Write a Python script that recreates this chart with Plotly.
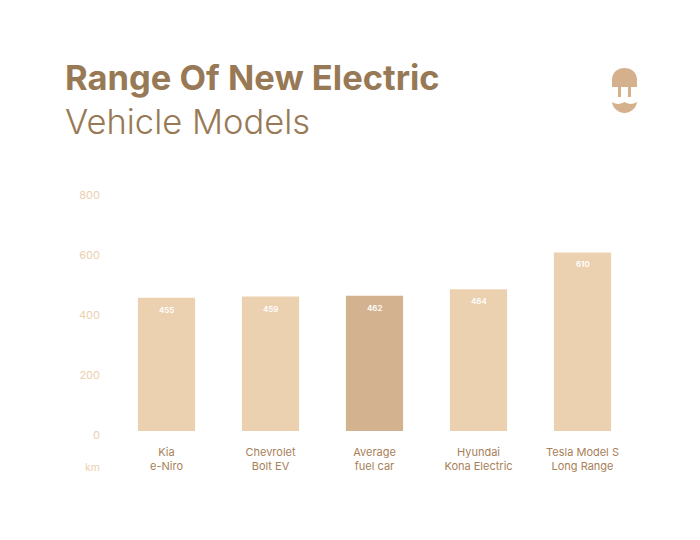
import plotly.graph_objects as go

categories = ["Kia<br>e-Niro", "Chevrolet<br>Bolt EV", "Average<br>fuel car", "Hyundai<br>Kona Electric", "Tesla Model S<br>Long Range"]
values = [455, 459, 462, 484, 610]
bar_colors = ["#ecd1b0", "#ecd1b0", "#d3b38f", "#ecd1b0", "#ecd1b0"]
y_ticks = [0, 200, 400, 600, 800]
W, H = 700, 540
FONT = "Inter"
BROWN = "#987955"
ICON = "#d4b08c"
TICK = "#eccfae"


def py(p):
    return 1 - p / H


def px(p):
    return p / W


def P(x, y):
    return f"{x/W:.5f} {1-y/H:.5f}"


fig = go.Figure()
fig.add_trace(go.Bar(
    x=categories, y=values, marker=dict(color=bar_colors, line_width=0),
    cliponaxis=False, hoverinfo="skip", showlegend=False,
))
fig.add_trace(go.Scatter(x=categories[:1], y=[0], yaxis="y2", mode="markers",
                         marker=dict(opacity=0), hoverinfo="skip", showlegend=False))

icon_shapes = [
    dict(path=f"M {P(612,87)} L {P(612,80)} C {P(612,72)} {P(618,68)} {P(624.5,68)} C {P(631,68)} {P(637,72)} {P(637,80)} L {P(637,87)} Z"),
    dict(path=f"M {P(618,87)} L {P(621,87)} L {P(621,97)} L {P(618,97)} Z"),
    dict(path=f"M {P(628,87)} L {P(631,87)} L {P(631,97)} L {P(628,97)} Z"),
    dict(path=f"M {P(612,102)} C {P(617,105)} {P(621,104)} {P(624.5,102)} C {P(628,104)} {P(632,105)} {P(637,102)} C {P(636,109)} {P(630,113)} {P(624.5,113)} C {P(619,113)} {P(613,109)} {P(612,102)} Z"),
]
for s in icon_shapes:
    s.update(type="path", xref="paper", yref="paper", fillcolor=ICON, line_width=0)

value_labels = [
    dict(x=c, y=v, xref="x", yref="y", text=str(v), showarrow=False, yshift=-12,
         xanchor="center", yanchor="middle",
         font=dict(size=8, color="#ffffff", family=FONT, weight=600))
    for c, v in zip(categories, values)
]

fig.update_layout(
    width=W, height=H, margin=dict(l=0, r=0, t=0, b=0, autoexpand=False),
    paper_bgcolor="#ffffff", plot_bgcolor="rgba(0,0,0,0)", bargap=0.45, shapes=icon_shapes,
    xaxis=dict(domain=[px(114.5), px(634.5)], type="category", showgrid=False, zeroline=False,
               showline=False, ticks="", ticklabelstandoff=13,
               tickfont=dict(size=11, color="#a88058", family=FONT)),
    yaxis=dict(domain=[py(431), py(195)], range=[0, 806], visible=False),
    yaxis2=dict(domain=[py(435), py(195)], range=[0, 800], anchor="free",
                position=px(100), side="left", tickvals=y_ticks, showgrid=False, zeroline=False,
                showline=False, ticks="", tickfont=dict(size=11, color=TICK, family=FONT)),
    annotations=value_labels + [
        dict(text="<b>Range Of New Electric</b>", xref="paper", yref="paper", x=px(63), y=py(77),
             xanchor="left", yanchor="middle", showarrow=False,
             font=dict(size=34.5, color=BROWN, family=FONT)),
        dict(text="Vehicle Models", xref="paper", yref="paper", x=px(63), y=py(121),
             xanchor="left", yanchor="middle", showarrow=False,
             font=dict(size=34.5, color=BROWN, family=FONT, weight=300)),
        dict(text="km", xref="paper", yref="paper", x=px(102), y=py(467),
             xanchor="right", yanchor="middle", showarrow=False,
             font=dict(size=10.5, color=TICK, family=FONT)),
    ],
)
fig.write_html("out.html", config=dict(displayModeBar=False),
               post_script="document.body.style.margin='0';")
